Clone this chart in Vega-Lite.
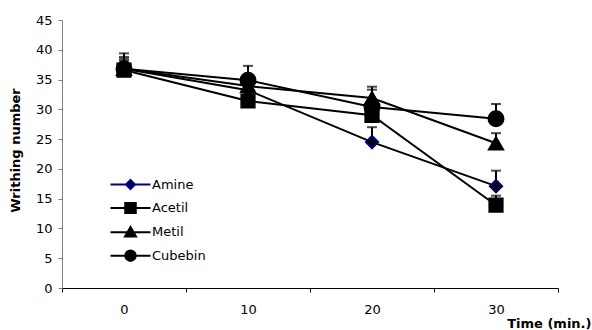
{
  "$schema": "https://vega.github.io/schema/vega-lite/v6.json",
  "width": 496,
  "height": 268,
  "autosize": "none",
  "padding": {"left": 62, "top": 20, "right": 34, "bottom": 42},
  "config": {"view": {"stroke": null}, "font": "DejaVu Sans"},
  "data": {
    "values": [
      {"series": "Amine", "time": "0", "value": 36.8, "hi": 39.4},
      {"series": "Amine", "time": "10", "value": 33.2, "hi": 34.8},
      {"series": "Amine", "time": "20", "value": 24.5, "hi": 27.0},
      {"series": "Amine", "time": "30", "value": 17.1, "hi": 19.7},
      {"series": "Acetil", "time": "0", "value": 36.6, "hi": 38.2},
      {"series": "Acetil", "time": "10", "value": 31.4, "hi": 33.0},
      {"series": "Acetil", "time": "20", "value": 29.0, "hi": 30.8},
      {"series": "Acetil", "time": "30", "value": 13.9, "hi": 15.5},
      {"series": "Metil", "time": "0", "value": 36.8, "hi": 38.8},
      {"series": "Metil", "time": "10", "value": 33.9, "hi": 35.6},
      {"series": "Metil", "time": "20", "value": 31.9, "hi": 33.8},
      {"series": "Metil", "time": "30", "value": 24.3, "hi": 26.0},
      {"series": "Cubebin", "time": "0", "value": 36.8, "hi": 38.5},
      {"series": "Cubebin", "time": "10", "value": 34.9, "hi": 37.3},
      {"series": "Cubebin", "time": "20", "value": 30.4, "hi": 33.3},
      {"series": "Cubebin", "time": "30", "value": 28.4, "hi": 30.9}
    ]
  },
  "encoding": {
    "x": {
      "field": "time",
      "type": "ordinal",
      "sort": ["0", "10", "20", "30"],
      "scale": {"type": "band", "paddingInner": 0, "paddingOuter": 0},
      "axis": {
        "title": "Time (min.)",
        "titleFont": "DejaVu Sans",
        "titleFontWeight": "bold",
        "titleFontSize": 13,
        "titleColor": "black",
        "titleAnchor": null,
        "titleAlign": "right",
        "titleBaseline": "alphabetic",
        "titleX": 529,
        "titleY": 39,
        "labelAngle": 0,
        "labelFont": "DejaVu Sans",
        "labelFontSize": 13,
        "labelColor": "black",
        "labelPadding": 11,
        "tickBand": "extent",
        "tickSize": 4,
        "tickColor": "black",
        "domainColor": "black",
        "grid": false
      }
    },
    "y": {
      "field": "value",
      "type": "quantitative",
      "scale": {"domain": [0, 45], "nice": false, "zero": true},
      "axis": {
        "title": "Writhing number",
        "titleFont": "DejaVu Sans",
        "titleFontWeight": "bold",
        "titleFontSize": 13,
        "titleColor": "black",
        "titleAngle": -90,
        "titleAlign": "center",
        "titleBaseline": "middle",
        "titleX": -47,
        "titleY": 130,
        "values": [0, 5, 10, 15, 20, 25, 30, 35, 40, 45],
        "labelOverlap": false,
        "labelFont": "DejaVu Sans",
        "labelFontSize": 13,
        "labelColor": "black",
        "labelPadding": 6,
        "tickSize": 4,
        "tickColor": "#808080",
        "domainColor": "#808080",
        "grid": false
      }
    }
  },
  "layer": [
    {
      "mark": {"type": "rule", "color": "black", "strokeWidth": 2},
      "encoding": {
        "y2": {"field": "hi"}
      }
    },
    {
      "mark": {"type": "tick", "color": "black", "thickness": 2, "size": 10},
      "encoding": {
        "y": {
          "field": "hi",
          "type": "quantitative",
          "axis": {
            "title": "Writhing number",
            "titleFont": "DejaVu Sans",
            "titleFontWeight": "bold",
            "titleFontSize": 13,
            "titleColor": "black",
            "titleAngle": -90,
            "titleAlign": "center",
            "titleBaseline": "middle",
            "titleX": -47,
            "titleY": 130,
            "values": [0, 5, 10, 15, 20, 25, 30, 35, 40, 45],
            "labelOverlap": false,
            "labelFont": "DejaVu Sans",
            "labelFontSize": 13,
            "labelColor": "black",
            "labelPadding": 6,
            "tickSize": 4,
            "tickColor": "#808080",
            "domainColor": "#808080",
            "grid": false
          }
        }
      }
    },
    {
      "mark": {"type": "line", "color": "black", "strokeWidth": 2},
      "encoding": {
        "detail": {"field": "series"}
      }
    },
    {
      "mark": {"type": "point", "filled": true, "fill": "black", "strokeWidth": 2, "opacity": 1},
      "encoding": {
        "shape": {
          "field": "series",
          "type": "nominal",
          "scale": {"domain": ["Amine", "Acetil", "Metil", "Cubebin"], "range": ["diamond", "square", "triangle-up", "circle"]},
          "legend": null
        },
        "size": {
          "field": "series",
          "type": "nominal",
          "scale": {"domain": ["Amine", "Acetil", "Metil", "Cubebin"], "range": [150, 225, 240, 210]},
          "legend": null
        },
        "stroke": {
          "field": "series",
          "type": "nominal",
          "scale": {"domain": ["Amine", "Acetil", "Metil", "Cubebin"], "range": ["#000080", "black", "black", "black"]},
          "legend": null
        }
      }
    },
    {
      "mark": {"type": "point", "filled": true, "fill": "black", "opacity": 0, "size": 100},
      "encoding": {
        "shape": {
          "field": "series",
          "type": "nominal",
          "scale": {
            "domain": ["Amine", "Acetil", "Metil", "Cubebin"],
            "range": [
              "M-4,0H4M0,-0.9L0.9,0L0,0.9L-0.9,0Z",
              "M-4,0H4M-1.05,-1H1.05V1H-1.05Z",
              "M-4,0H4M0,-1.05L1.1,0.85H-1.1Z",
              "M-4,0H4M1.05,0A1.05,1.05,0,1,1,-1.05,0A1.05,1.05,0,1,1,1.05,0Z"
            ]
          },
          "legend": {
            "title": null,
            "orient": "none",
            "legendX": 62,
            "legendY": 158,
            "padding": 0,
            "symbolSize": 100,
            "symbolStrokeWidth": 2,
            "symbolFillColor": "black",
            "symbolOpacity": 1,
            "labelFont": "DejaVu Sans",
            "labelFontSize": 13,
            "labelColor": "black",
            "labelOffset": 15,
            "rowPadding": 5.4
          }
        },
        "stroke": {
          "field": "series",
          "type": "nominal",
          "scale": {"domain": ["Amine", "Acetil", "Metil", "Cubebin"], "range": ["#000080", "black", "black", "black"]},
          "legend": {
            "title": null,
            "orient": "none",
            "legendX": 62,
            "legendY": 158,
            "padding": 0,
            "symbolSize": 100,
            "symbolStrokeWidth": 2,
            "symbolFillColor": "black",
            "symbolOpacity": 1,
            "labelFont": "DejaVu Sans",
            "labelFontSize": 13,
            "labelColor": "black",
            "labelOffset": 15,
            "rowPadding": 5.4
          }
        }
      }
    }
  ],
  "resolve": {"scale": {"shape": "independent", "stroke": "independent", "size": "independent"}}
}
